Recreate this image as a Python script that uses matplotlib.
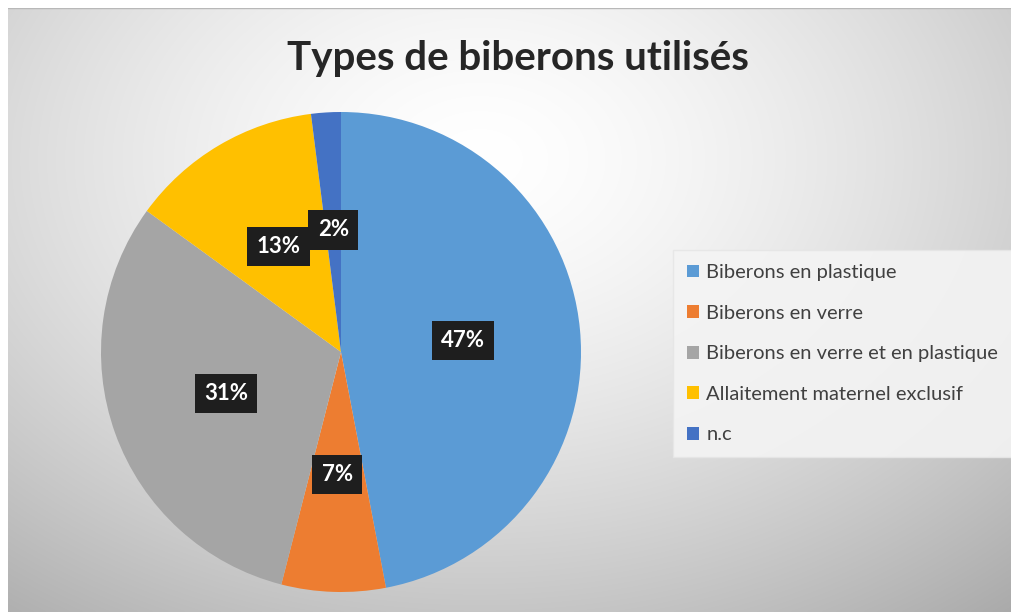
import numpy as np
import matplotlib.pyplot as plt

categories = ['Biberons en plastique', 'Biberons en verre',
              'Biberons en verre et en plastique',
              'Allaitement maternel exclusif', 'n.c']
values = [47, 7, 31, 13, 2]
colors = ['#5B9BD5', '#ED7D31', '#A5A5A5', '#FFC000', '#4472C4']

plt.rcParams['font.family'] = ['Lato', 'DejaVu Sans']

fig = plt.figure(figsize=(10.12, 6.12), dpi=100)
fig.patch.set_facecolor('white')

# background radial gradient (chart area starts a few px in from the top/left)
bg = fig.add_axes([8 / 1012, 0, 1 - 8 / 1012, 1 - 8 / 612])
ny, nx = 300, 500
yy, xx = np.mgrid[0:1:ny * 1j, 0:1:nx * 1j]
d = np.sqrt(((xx - 0.47) / 0.72) ** 2 + ((yy - 0.25) / 0.85) ** 2)
shade = 1.0 - 0.27 * np.clip(d, 0, 1.3) ** 1.5
bg.imshow(np.dstack([shade] * 3), extent=[0, 1, 0, 1], origin='upper',
          aspect='auto', interpolation='bilinear')
bg.plot([0, 1], [1, 1], color='#B8B8B8', lw=1.0)
bg.set_xlim(0, 1)
bg.set_ylim(0, 1)
bg.axis('off')

# pie
cx, cy, r = 341, 352, 240
ax = fig.add_axes([(cx - r) / 1012, (612 - cy - r) / 612, 2 * r / 1012, 2 * r / 612])
wedges, texts, autotexts = ax.pie(values, colors=colors, startangle=90, counterclock=False,
                                  autopct='%1.0f%%', pctdistance=0.51, radius=1,
                                  wedgeprops=dict(linewidth=0))
for t in autotexts:
    t.set_color('white')
    t.set_fontsize(16)
    t.set_fontweight('bold')
    t.set_bbox(dict(boxstyle='square,pad=0.42', facecolor='#1E1E1E', edgecolor='none'))
ax.set_xlim(-1, 1)
ax.set_ylim(-1, 1)
ax.set_aspect('equal')
ax.axis('off')

fig.text(0.512, 0.905, 'Types de biberons utilisés', ha='center', va='center',
         fontsize=29, fontweight='bold', color='#262626')

leg = fig.legend(wedges, categories, loc='upper left', bbox_to_anchor=(673 / 1012, 1 - 250 / 612),
                 borderaxespad=0, frameon=True, fontsize=14.5, handlelength=0.6,
                 handleheight=0.6, handletextpad=0.35, labelspacing=1.17, borderpad=0.7,
                 fancybox=False)
leg.get_frame().set_facecolor('#F4F4F4')
leg.get_frame().set_edgecolor('#E6E6E6')
leg.get_frame().set_alpha(0.9)
for t in leg.get_texts():
    t.set_color('#404040')

fig.savefig('out.png', dpi=100)
